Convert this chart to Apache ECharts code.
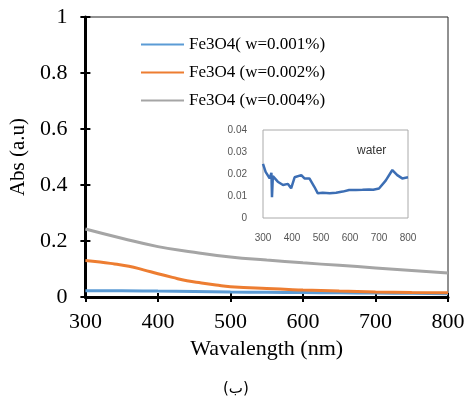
<!DOCTYPE html>
<html><head><meta charset="utf-8">
<script src="https://cdn.jsdelivr.net/npm/echarts@6/dist/echarts.min.js"></script>
<style>html,body{margin:0;padding:0;background:#fff}#c{width:469px;height:404px}</style>
</head><body><div id="c"></div>
<script>
// Main chart data
const seriesNames = ['Fe3O4( w=0.001%)', 'Fe3O4 (w=0.002%)', 'Fe3O4 (w=0.004%)'];
const blueX = [300, 350, 400, 450, 500, 550, 600, 650, 700, 750, 800];
const blueY = [0.022, 0.022, 0.021, 0.020, 0.018, 0.017, 0.016, 0.015, 0.014, 0.013, 0.012];
const orangeX = [300, 320, 340, 360, 380, 400, 420, 440, 460, 480, 500, 550, 600, 650, 700, 750, 800];
const orangeY = [0.130, 0.125, 0.118, 0.110, 0.097, 0.083, 0.070, 0.058, 0.050, 0.043, 0.037, 0.030, 0.025, 0.021, 0.018, 0.016, 0.015];
const grayX = [300, 350, 400, 450, 500, 550, 600, 650, 700, 750, 800];
const grayY = [0.243, 0.210, 0.180, 0.160, 0.143, 0.132, 0.122, 0.113, 0.104, 0.095, 0.086];
const xTicks = [300, 400, 500, 600, 700, 800];
const yTicks = [0, 0.2, 0.4, 0.6, 0.8, 1];
// Inset (water) data
const waterX = [300, 309, 323, 329, 331, 334, 351, 369, 386, 397, 409, 432, 443, 460, 477, 489, 506, 530, 552, 575, 597, 620, 643, 666, 680, 700, 723, 746, 763, 780, 800];
const waterY = [0.0246, 0.021, 0.018, 0.0205, 0.0095, 0.019, 0.0165, 0.015, 0.0155, 0.0135, 0.0185, 0.0195, 0.018, 0.018, 0.0142, 0.0112, 0.0115, 0.0113, 0.0115, 0.012, 0.0127, 0.0127, 0.0128, 0.013, 0.0128, 0.0134, 0.017, 0.0218, 0.0195, 0.018, 0.0185];
const insetXTicks = [300, 400, 500, 600, 700, 800];
const insetYTicks = [0, 0.01, 0.02, 0.03, 0.04];

const zip = (xs, ys) => xs.map((x, i) => [x, ys[i]]);
const serif = 'Liberation Serif';
const chart = echarts.init(document.getElementById('c'));
const mainX = {min: xTicks[0], max: xTicks[xTicks.length-1], interval: 100};
const mainY = {min: yTicks[0], max: yTicks[yTicks.length-1], interval: 0.2};
chart.setOption({
  animation: false,
  backgroundColor: '#fff',
  legend: {
    data: seriesNames, orient: 'vertical', left: 135, top: 31,
    itemWidth: 43, itemHeight: 14, itemGap: 11,
    itemStyle: {opacity: 0},
    lineStyle: {width: 2},
    textStyle: {fontFamily: serif, fontSize: 17, color: '#000'}
  },
  grid: [
    {left: 84, right: 21, top: 17, bottom: 107, show: true, borderColor: '#222', borderWidth: 1, backgroundColor: 'transparent'},
    {left: 263, right: 61, top: 130, bottom: 186, show: true, borderColor: '#aaa', borderWidth: 1, backgroundColor: '#fff'}
  ],
  xAxis: [
    Object.assign({type: 'value', gridIndex: 0, name: 'Wavalength (nm)', nameLocation: 'middle', nameGap: 40,
      nameTextStyle: {fontFamily: serif, fontSize: 22, color: '#000'},
      axisLine: {show: true, onZero: false, lineStyle: {color: '#000', width: 3}},
      axisTick: {show: true, length: 5, lineStyle: {color: '#000', width: 2}},
      axisLabel: {fontFamily: serif, fontSize: 22, color: '#000', margin: 14},
      splitLine: {show: false}}, mainX),
    Object.assign({type: 'value', gridIndex: 0, position: 'bottom',
      axisLine: {show: false}, axisTick: {show: true, inside: true, length: 4, lineStyle: {color: '#000', width: 2}},
      axisLabel: {show: false}, splitLine: {show: false}}, mainX),
    {type: 'value', gridIndex: 1, min: insetXTicks[0], max: insetXTicks[insetXTicks.length-1], interval: 100,
      axisLine: {show: false}, axisTick: {show: false},
      axisLabel: {fontFamily: 'Liberation Sans', fontSize: 10, color: '#555', margin: 15},
      splitLine: {show: false}}
  ],
  yAxis: [
    Object.assign({type: 'value', gridIndex: 0, name: 'Abs (a.u)', nameLocation: 'middle', nameGap: 54,
      nameTextStyle: {fontFamily: serif, fontSize: 21, color: '#000'},
      axisLine: {show: true, onZero: false, lineStyle: {color: '#000', width: 3}},
      axisTick: {show: true, length: 5, lineStyle: {color: '#000', width: 2}},
      axisLabel: {fontFamily: serif, fontSize: 22, color: '#000', margin: 18, formatter: v => String(+v.toFixed(1))},
      splitLine: {show: false}}, mainY),
    Object.assign({type: 'value', gridIndex: 0, position: 'left',
      axisLine: {show: false}, axisTick: {show: true, inside: true, length: 5, lineStyle: {color: '#000', width: 2}},
      axisLabel: {show: false}, splitLine: {show: false}}, mainY),
    {type: 'value', gridIndex: 1, min: insetYTicks[0], max: insetYTicks[insetYTicks.length-1], interval: 0.01,
      axisLine: {show: false}, axisTick: {show: false},
      axisLabel: {fontFamily: 'Liberation Sans', fontSize: 10, color: '#555', margin: 16, formatter: v => String(+v.toFixed(2))},
      splitLine: {show: false}}
  ],
  series: [
    {name: seriesNames[0], type: 'line', xAxisIndex: 0, yAxisIndex: 0, data: zip(blueX, blueY), showSymbol: false, symbol: 'none', smooth: true,
      lineStyle: {color: '#5B9BD5', width: 3}, itemStyle: {color: '#5B9BD5'}, z: 3},
    {name: seriesNames[1], type: 'line', xAxisIndex: 0, yAxisIndex: 0, data: zip(orangeX, orangeY), showSymbol: false, symbol: 'none', smooth: true,
      lineStyle: {color: '#ED7D31', width: 3}, itemStyle: {color: '#ED7D31'}, z: 3},
    {name: seriesNames[2], type: 'line', xAxisIndex: 0, yAxisIndex: 0, data: zip(grayX, grayY), showSymbol: false, symbol: 'none', smooth: true,
      lineStyle: {color: '#A5A5A5', width: 3}, itemStyle: {color: '#A5A5A5'}, z: 3},
    {name: 'water', type: 'line', xAxisIndex: 2, yAxisIndex: 2, data: zip(waterX, waterY), showSymbol: false, symbol: 'none',
      lineStyle: {color: '#3C6EB4', width: 2.5}, z: 5}
  ],
  graphic: [
    {type: 'text', left: 357, top: 145, z: 10, style: {text: 'water', fontFamily: 'Liberation Sans', fontSize: 12, fill: '#333'}},
    {type: 'text', left: 223, top: 382, z: 10, style: {text: '(ب)', fontFamily: 'DejaVu Sans', fontSize: 15, fill: '#000'}}
  ]
});
</script></body></html>
